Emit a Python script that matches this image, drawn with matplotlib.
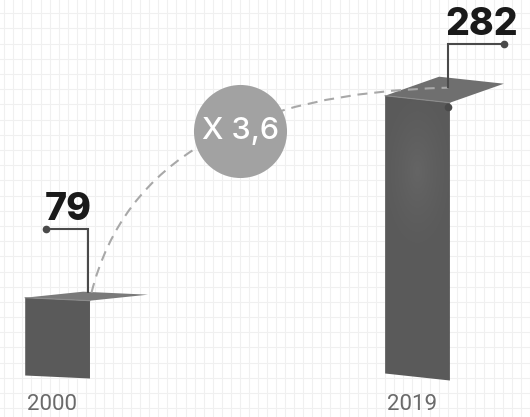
import numpy as np
import matplotlib
matplotlib.use('Agg')
import matplotlib.pyplot as plt
from matplotlib.patches import Polygon, PathPatch
from matplotlib.path import Path

# ---- data ----
years = ['2000', '2019']
values = [79, 282]
ratio_label = 'X ' + f'{values[1] / values[0]:.1f}'.replace('.', ',')

# ---- figure ----
W, H, DPI = 530, 417, 100
fig = plt.figure(figsize=(W / DPI, H / DPI), dpi=DPI)
fig.patch.set_facecolor('white')

# background grid (decorative)
bg = fig.add_axes([0, 0, 1, 1], zorder=0)
bg.set_xlim(0, W)
bg.set_ylim(H, 0)
bg.axis('off')
for gx in np.arange(4.3, W, 9.06):
    bg.axvline(gx, color='#f0f0f0', lw=0.8)
for gy in np.arange(13.3, H, 15.19):
    bg.axhline(gy, color='#f0f0f0', lw=0.8)

ax = fig.add_axes([0, 0, 1, 1], zorder=1)
ax.patch.set_alpha(0)
ax.axis('off')
x = np.arange(len(values))
XMIN, XMAX = -0.16, 1.3125
YMIN, YMAX = -40.6, 382.7
ax.set_xlim(XMIN, XMAX)
ax.set_ylim(YMIN, YMAX)
pxx = W / (XMAX - XMIN)   # pixels per x unit
pxy = H / (YMAX - YMIN)   # pixels per y unit

# ---- style ----
bar_w = 0.18
face_col = '#5a5a5a'
roof_cols = ['#7a7a7a', '#6f6f6f']
skew_px = [3, 7]
roof_shift = [(58, 6), (54, 19)]
anchor_back = [1.5, 2.3]
anchor_lift = [8, 15]
leader_rise = [64, 44]
leader_run = [-42, 56]
front_dot = [False, True]
lead_col = '#4a4a4a'
NUM_FONT = ['Inter', 'DejaVu Sans']
YEAR_FONT = ['Roboto', 'DejaVu Sans']

anchors = []
for i, v in enumerate(values):
    xc = x[i]
    xl, xr = xc - bar_w / 2, xc + bar_w / 2
    s = skew_px[i] / 2 / pxy
    TL, TR, BR, BL = (xl, v + s), (xr, v - s), (xr, -s), (xl, s)
    ax.add_patch(Polygon([TL, TR, BR, BL], closed=True, fc=face_col, ec='none', zorder=2))
    if i == 1:
        # soft lighter spot on the tall bar
        gx = np.linspace(xl, xr, 60)
        gy = np.linspace(0, v, 200)
        GX, GY = np.meshgrid(gx, gy)
        cxp, cyp = xc, v * 0.74
        d = np.sqrt(((GX - cxp) * pxx / 40) ** 2 + ((GY - cyp) * pxy / 90) ** 2)
        a = np.clip(1 - d, 0, 1) ** 1.5
        img = np.zeros(GX.shape + (4,))
        img[..., :3] = 0.44
        img[..., 3] = a * 0.5
        im = ax.imshow(img, extent=(xl, xr, 0, v), origin='lower', aspect='auto',
                       zorder=2.1, interpolation='bilinear')
        clip = Polygon([TL, TR, BR, BL], closed=True, transform=ax.transData)
        im.set_clip_path(clip)
    dx, dy = roof_shift[i][0] / pxx, roof_shift[i][1] / pxy
    ax.add_patch(Polygon([TL, TR, (TR[0] + dx, TR[1] + dy), (TL[0] + dx, TL[1] + dy)],
                         closed=True, fc=roof_cols[i], ec='none', zorder=3))
    ax.plot([TL[0], TR[0]], [TL[1], TR[1]], color='#8c8c8c', lw=0.8, zorder=3.1)

    ax_, ay_ = xr - anchor_back[i] / pxx, v - s + anchor_lift[i] / pxy
    anchors.append((ax_, ay_))
    cy = ay_ + leader_rise[i] / pxy
    ex = ax_ + leader_run[i] / pxx
    ax.plot([ax_, ax_, ex], [ay_, cy, cy], color=lead_col, lw=1.5, zorder=5,
            solid_capstyle='butt', solid_joinstyle='miter')
    ax.plot([ex], [cy], 'o', ms=4.5, color=lead_col, zorder=5)
    if front_dot[i]:
        ax.plot([TR[0] - 1.7 / pxx], [TR[1] - 4.3 / pxy], 'o', ms=4.5, color=lead_col, zorder=5)
    ax.text(min(ax_, ex) - 2 / pxx, cy + 8.5 / pxy, f'{v}', ha='left', va='baseline',
            fontsize=27, fontweight='heavy', family=NUM_FONT, color='#1a1a1a', zorder=6)

    ax.text(xl + 1.7 / pxx, -32.5 / pxy, years[i], ha='left', va='baseline',
            fontsize=16, fontweight='normal', family=YEAR_FONT,
            color='#6a6a6a', zorder=6)

# ---- dashed growth curve ----
P0 = (anchors[0][0] + 3 / pxx, anchors[0][1])
P2 = anchors[1]
P1 = (P0[0] + 0.14 * (P2[0] - P0[0]), P2[1] - 7 / pxy)
curve = Path([P0, P1, P2], [Path.MOVETO, Path.CURVE3, Path.CURVE3])
ax.add_patch(PathPatch(curve, fill=False, ec='#a8a8a8', lw=1.5,
                       linestyle=(0, (4.8, 3.3)), zorder=4))

# ---- ratio badge ----
bx, by = 240 / W, 1 - 131 / H
ax.plot([bx], [by], 'o', ms=67, color='#a2a2a2', mec='none', transform=ax.transAxes, zorder=7)
ax.text(bx, by, ratio_label, ha='center', va='center', transform=ax.transAxes,
        fontsize=22, fontweight='medium', family=NUM_FONT, color='white', zorder=8)

fig.savefig('out.png', dpi=DPI, facecolor='white')
